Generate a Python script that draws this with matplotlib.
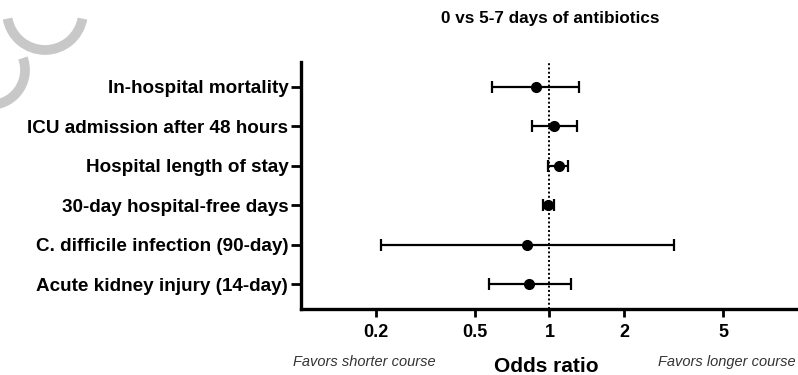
import matplotlib.pyplot as plt
from matplotlib.patches import Arc

plt.rcParams['font.family'] = ['Liberation Sans', 'DejaVu Sans']

outcomes = ["In-hospital mortality",
            "ICU admission after 48 hours",
            "Hospital length of stay",
            "30-day hospital-free days",
            "C. difficile infection (90-day)",
            "Acute kidney injury (14-day)"]
odds = [0.88, 1.04, 1.09, 0.99, 0.81, 0.83]
ci_low = [0.59, 0.85, 0.99, 0.94, 0.21, 0.57]
ci_high = [1.31, 1.29, 1.19, 1.04, 3.18, 1.22]
xticks = [0.2, 0.5, 1, 2, 5]
xtick_labels = ["0.2", "0.5", "1", "2", "5"]

fig = plt.figure(figsize=(7.98, 3.75), dpi=100)
ax = fig.add_axes([0.377, 0.176, 0.623, 0.659])

ypos = list(range(len(outcomes)))
err = [[o - l for o, l in zip(odds, ci_low)], [h - o for o, h in zip(odds, ci_high)]]
ax.errorbar(odds, ypos, xerr=err, fmt='o', color='black', ms=7,
            elinewidth=1.6, capsize=4, capthick=1.6, zorder=3)
ax.axvline(1, color='black', linestyle=(0, (1, 1.2)), linewidth=1.4, zorder=2)

ax.set_xscale('log')
ax.set_xlim(0.1, 10)
ax.set_ylim(len(outcomes) - 0.37, -0.63)
ax.set_xticks(xticks)
ax.set_xticklabels(xtick_labels, fontsize=13, fontweight='bold')
ax.minorticks_off()
ax.set_yticks(ypos)
ax.set_yticklabels(outcomes, fontsize=13.6, fontweight='bold')
ax.tick_params(axis='both', width=2, direction='out', color='black')
ax.tick_params(axis='x', length=6, pad=5)
ax.tick_params(axis='y', length=7.5, pad=1.5)

for side in ['top', 'right']:
    ax.spines[side].set_visible(False)
for side in ['left', 'bottom']:
    ax.spines[side].set_linewidth(2.4)

fig.text(550 / 798, 1 - 18 / 375, "0 vs 5-7 days of antibiotics",
         ha='center', va='center', fontsize=12.3, fontweight='bold')
fig.text(546 / 798, 1 - 366 / 375, "Odds ratio",
         ha='center', va='center', fontsize=15, fontweight='bold')
fig.text(364 / 798, 1 - 362 / 375, "Favors shorter course",
         ha='center', va='center', fontsize=10.5, style='italic', color='#333333')
fig.text(796 / 798, 1 - 362 / 375, "Favors longer course",
         ha='right', va='center', fontsize=10.5, style='italic', color='#333333')

# faint logo arcs in the upper-left corner
wm = dict(transform=None, color='#c8c8c8', linewidth=7, zorder=0)
fig.patches.append(Arc((45, 375 - 12), 76, 76, theta1=190, theta2=350, **wm))
fig.patches.append(Arc((-10, 375 - 70), 70, 70, theta1=280, theta2=20, **wm))

fig.savefig("out.png", dpi=100)
